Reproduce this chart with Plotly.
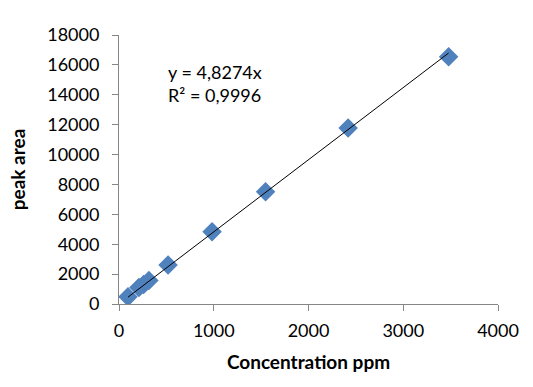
import plotly.graph_objects as go

conc = [95, 210, 260, 315, 518, 982, 1547, 2418, 3479]
area = [480, 1100, 1300, 1580, 2610, 4830, 7510, 11770, 16540]
slope = 4.8274
fit_x = [min(conc), max(conc)]
fit_y = [slope * v for v in fit_x]

x_ticks = [0, 1000, 2000, 3000, 4000]
y_ticks = [0, 2000, 4000, 6000, 8000, 10000, 12000, 14000, 16000, 18000]

font = "Lato"
fig = go.Figure()
fig.add_trace(go.Scatter(x=conc, y=area, mode="markers",
                         marker=dict(symbol="diamond", size=15, color="#4F81BD",
                                     line=dict(width=0)), showlegend=False))
fig.add_trace(go.Scatter(x=fit_x, y=fit_y, mode="lines",
                         line=dict(color="black", width=1), showlegend=False))

fig.add_annotation(x=0.125, y=0.82, xref="paper", yref="paper", xanchor="left", yanchor="middle",
                   text="y = 4,8274x<br>R² = 0,9996", showarrow=False, align="left",
                   font=dict(family=font, size=18, color="black"))

axis_common = dict(showgrid=False, zeroline=False, showline=True, linecolor="#868686", linewidth=1,
                   ticks="outside", tickcolor="#868686", ticklen=6, automargin=False,
                   tickformat="d", tickfont=dict(family=font, size=18, color="black"))
fig.update_xaxes(range=[0, 4000], tickvals=x_ticks, ticklabelstandoff=4,
                 title=dict(text="<b>Concentration ppm</b>",
                 font=dict(family=font, size=19, color="black"), standoff=16), **axis_common)
fig.update_yaxes(range=[0, 18000], tickvals=y_ticks, ticklabelstandoff=9,
                 title=dict(text="<b>peak area</b>",
                 font=dict(family=font, size=19, color="black"), standoff=16), **axis_common)

fig.update_layout(width=533, height=387, margin=dict(l=119, r=35, t=35, b=83),
                  paper_bgcolor="white", plot_bgcolor="white")
fig.write_html("out.html", config={"displayModeBar": False},
               post_script="document.body.style.margin='0';document.body.style.overflow='hidden';")
